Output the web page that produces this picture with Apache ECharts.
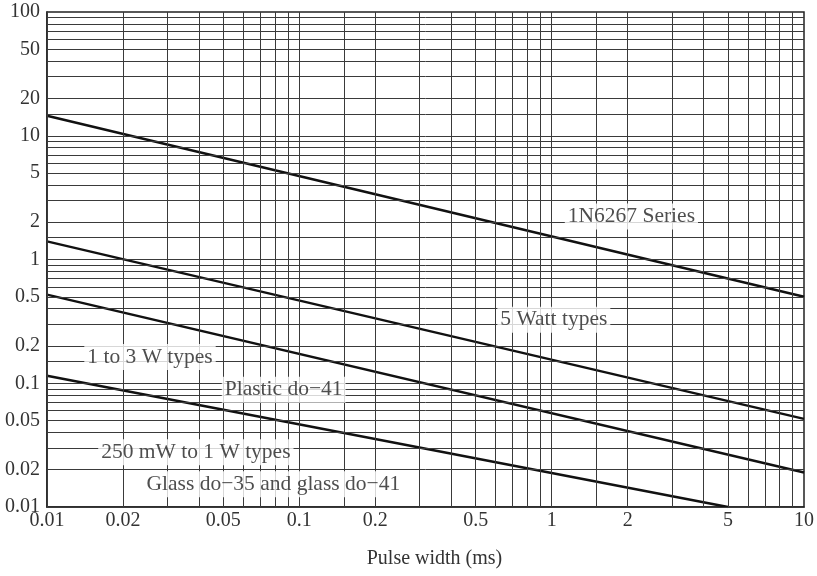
<!DOCTYPE html>
<html>
<head>
<meta charset="utf-8">
<script src="https://cdn.jsdelivr.net/npm/echarts@6/dist/echarts.min.js"></script>
<style>
  html, body { margin: 0; padding: 0; background: #fff; }
  #chart { width: 817px; height: 576px; }
</style>
</head>
<body>
<div id="chart"></div>
<script>
// ---- Data ----
const xTickLabels = [0.01, 0.02, 0.05, 0.1, 0.2, 0.5, 1, 2, 5, 10];
const yTickLabels = [0.01, 0.02, 0.05, 0.1, 0.2, 0.5, 1, 2, 5, 10, 20, 50, 100];
const gridMantissas = [1, 1.5, 2, 3, 4, 5, 6, 7, 8, 9];
const xDecades = [0.01, 0.1, 1];
const yDecades = [0.01, 0.1, 1, 10];

const x1N6267 = [0.01, 10];
const y1N6267 = [14.5, 0.5];
const x5Watt = [0.01, 10];
const y5Watt = [1.4, 0.0515];
const x1to3W = [0.01, 10];
const y1to3W = [0.52, 0.019];
const x250mW = [0.01, 5];
const y250mW = [0.115, 0.01];

const annotationTexts = ['1N6267 Series', '5 Watt types', '1 to 3 W types', 'Plastic do\u221241',
  '250 mW to 1 W types', 'Glass do\u221235 and glass do\u221241'];
const annotationX = [2.07, 1.02, 0.0256, 0.0867, 0.0389, 0.0789];
const annotationY = [2.23, 0.326, 0.163, 0.0885, 0.0277, 0.0153];

// ---- Build ----
const FONT = 'Liberation Serif';
const xGrid = [];
xDecades.forEach(d => gridMantissas.forEach(m => { const v = +(d * m).toPrecision(3); if (v > 0.01) xGrid.push(v); }));
const yGrid = [];
yDecades.forEach(d => gridMantissas.forEach(m => { const v = +(d * m).toPrecision(3); if (v > 0.01) yGrid.push(v); }));

function pairs(xs, ys) { return xs.map((x, i) => [x, ys[i]]); }

const lineStyle = { color: '#111', width: 2.4 };
const dataSeries = [
  [x1N6267, y1N6267], [x5Watt, y5Watt], [x1to3W, y1to3W], [x250mW, y250mW]
].map(([xs, ys]) => ({
  type: 'line', data: pairs(xs, ys), showSymbol: false, symbol: 'none',
  lineStyle: lineStyle, z: 3, silent: true, clip: true
}));

const chart = echarts.init(document.getElementById('chart'), null, { renderer: 'canvas' });
chart.setOption({
  animation: false,
  backgroundColor: '#fff',
  grid: { left: 47, right: 11, top: 12, bottom: 69, show: true, borderColor: '#222', borderWidth: 1.5, backgroundColor: 'transparent' },
  xAxis: {
    type: 'log', logBase: 10, min: 0.01, max: 10,
    name: 'Pulse width (ms)', nameLocation: 'middle', nameGap: 42,
    nameTextStyle: { fontFamily: FONT, fontSize: 20, color: '#333', padding: [0, 0, 0, 18] },
    axisLine: { show: true, lineStyle: { color: '#222', width: 1.5 } },
    axisTick: { show: false, customValues: xTickLabels },
    splitLine: { show: false },
    minorSplitLine: { show: false },
    axisLabel: { customValues: xTickLabels, fontFamily: FONT, fontSize: 20, color: '#333', margin: 4,
      formatter: v => String(+(+v).toPrecision(3)) }
  },
  yAxis: {
    type: 'log', logBase: 10, min: 0.01, max: 100,
    axisLine: { show: true, lineStyle: { color: '#222', width: 1.5 } },
    axisTick: { show: false, customValues: yTickLabels },
    splitLine: { show: false },
    minorSplitLine: { show: false },
    axisLabel: { customValues: yTickLabels, fontFamily: FONT, fontSize: 20, color: '#333', margin: 7,
      formatter: v => String(+(+v).toPrecision(3)) }
  },
  series: [
    {
      type: 'line', data: [], silent: true, z: 1,
      markLine: {
        silent: true, symbol: ['none', 'none'], animation: false,
        label: { show: false },
        lineStyle: { color: '#3a3a3a', width: 1, type: 'solid' },
        emphasis: { disabled: true },
        data: xGrid.map(v => ({ xAxis: v })).concat(yGrid.map(v => ({ yAxis: v })))
      }
    },
    ...dataSeries,
    {
      type: 'scatter', symbolSize: 0, z: 5, silent: true,
      data: annotationTexts.map((t, i) => ({ value: [annotationX[i], annotationY[i]], name: t })),
      label: {
        show: true, position: 'inside', formatter: p => p.name,
        fontFamily: FONT, fontSize: 21.5, color: '#222',
        backgroundColor: '#fff', padding: [2, 3]
      }
    }
  ]
});
</script>
</body>
</html>
